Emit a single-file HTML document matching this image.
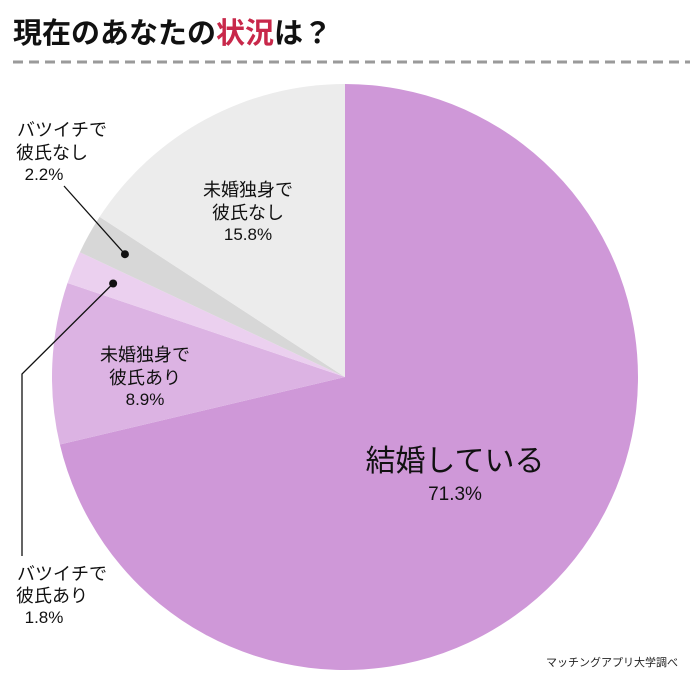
<!DOCTYPE html>
<html><head><meta charset="utf-8"><style>
body{margin:0;background:#fff;}
svg{display:block;font-family:"Liberation Sans","Noto Sans CJK JP",sans-serif;}
</style></head><body>
<svg width="690" height="684" viewBox="0 0 690 684">
<text x="13" y="43" font-size="29" font-weight="bold" fill="#111">現在のあなたの<tspan fill="#c8284a">状況</tspan>は？</text>
<line x1="13" y1="62" x2="690" y2="62" stroke="#9a9a9a" stroke-width="3" stroke-dasharray="10,6"/>
<g id="slices"></g>
<g id="labels"></g>
<text x="678" y="666" font-size="11" text-anchor="end" fill="#222">マッチングアプリ大学調べ</text>
</svg>
<script>
const categories=["結婚している","未婚独身で彼氏あり","バツイチで彼氏あり","バツイチで彼氏なし","未婚独身で彼氏なし"];
const values=[71.3,8.9,1.8,2.2,15.8];
const colors=["#cf98d8","#dcb3e3","#ebd0ef","#d7d7d7","#ececec"];
const cx=345,cy=377,r=293;
const ns="http://www.w3.org/2000/svg";
const total=values.reduce((a,b)=>a+b,0);
function pt(a,rr){return [cx+rr*Math.sin(a),cy-rr*Math.cos(a)];}
const g=document.getElementById('slices');
let a0=0;const mids=[];
values.forEach((v,i)=>{
  const a1=a0+v/total*2*Math.PI;
  const p0=pt(a0,r),p1=pt(a1,r);
  const p=document.createElementNS(ns,'path');
  p.setAttribute('d',`M${cx},${cy}L${p0[0]},${p0[1]}A${r},${r} 0 ${a1-a0>Math.PI?1:0} 1 ${p1[0]},${p1[1]}Z`);
  p.setAttribute('fill',colors[i]);
  
  
  g.appendChild(p);
  mids.push((a0+a1)/2);a0=a1;
});
const L=document.getElementById('labels');
function txt(x,y,s,fs,anchor){
  const t=document.createElementNS(ns,'text');
  t.setAttribute('x',x);t.setAttribute('y',y);t.setAttribute('font-size',fs);
  t.setAttribute('text-anchor',anchor||'middle');t.setAttribute('fill','#111');
  t.textContent=s;
  
  
  L.appendChild(t);
}
txt(455,471,"結婚している",30);txt(455,500,"71.3%",19);
txt(145,361,"未婚独身で",18);txt(145,384,"彼氏あり",18);txt(145,405,values[1]+"%",17);
txt(248,196,"未婚独身で",18);txt(248,219,"彼氏なし",18);txt(248,240,values[4]+"%",17);
txt(62,136,"バツイチで",18);txt(52,159,"彼氏なし",18);txt(44,180,values[3]+"%",17);
txt(62,580,"バツイチで",18);txt(52,602,"彼氏あり",18);txt(44,623,values[2]+"%",17);
function callout(i,rr,pts){
  const d=pt(mids[i],rr);
  const pl=document.createElementNS(ns,'polyline');
  pl.setAttribute('points',[d].concat(pts).map(p=>p.join(',')).join(' '));
  pl.setAttribute('fill','none');pl.setAttribute('stroke','#111');pl.setAttribute('stroke-width','1.3');
  
  
  L.appendChild(pl);
  const c=document.createElementNS(ns,'circle');
  c.setAttribute('cx',d[0]);c.setAttribute('cy',d[1]);c.setAttribute('r',4);c.setAttribute('fill','#111');
  
  
  L.appendChild(c);
}
callout(3,252,[[64,186]]);
callout(2,250,[[22,374],[22,556]]);
</script>
</body></html>
